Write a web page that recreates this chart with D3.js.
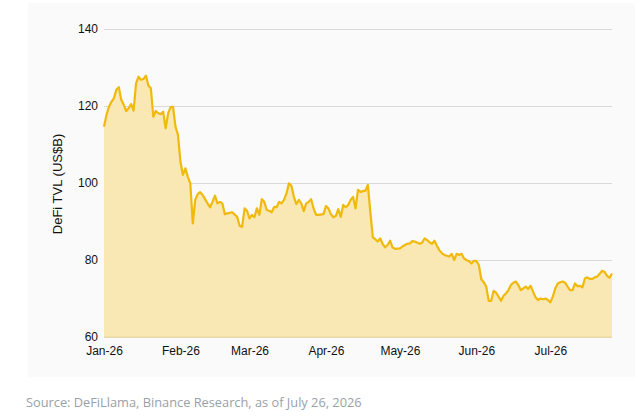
<!DOCTYPE html>
<html>
<head>
<meta charset="utf-8">
<script src="https://cdn.jsdelivr.net/npm/d3@7"></script>
<style>
  body { margin: 0; background: #fff; }
  svg { display: block; }
</style>
</head>
<body>
<div id="chart"></div>
<script>
// DeFi TVL, US$ billions, daily readings taken off the chart (2026)
var dates = [
  '01-01','01-02','01-03','01-04','01-05','01-06','01-07','01-08','01-09','01-10',
  '01-11','01-12','01-13','01-14','01-15','01-16','01-17','01-18','01-19','01-20',
  '01-21','01-22','01-23','01-24','01-25','01-26','01-27','01-28','01-29','01-30','01-31',
  '02-01','02-02','02-03','02-04','02-05','02-06','02-07','02-08','02-09','02-10',
  '02-12','02-13','02-14','02-15','02-16','02-17','02-18','02-19','02-20','02-22',
  '02-24','02-25','02-26','02-27','02-28',
  '03-01','03-02','03-03','03-04','03-05','03-06','03-07','03-08','03-09','03-10',
  '03-11','03-12','03-13','03-14','03-15','03-16','03-17','03-18','03-19','03-20',
  '03-21','03-22','03-23','03-24','03-25','03-26','03-27','03-28','03-29','03-31',
  '04-01','04-02','04-03','04-04','04-05','04-06','04-07','04-08','04-09','04-10',
  '04-11','04-12','04-13','04-14','04-15','04-16','04-17','04-18','04-19','04-20',
  '04-21','04-22','04-23','04-24','04-25','04-26','04-27','04-28','04-29',
  '05-01','05-02','05-03','05-04','05-05','05-06','05-07','05-09','05-10','05-11',
  '05-12','05-13','05-14','05-15','05-16','05-17','05-18','05-19','05-20','05-21',
  '05-22','05-23','05-24','05-25','05-26','05-27','05-28','05-29','05-30','05-31',
  '06-01','06-02','06-03','06-04','06-05','06-06','06-07','06-08','06-09','06-10',
  '06-11','06-12','06-13','06-14','06-15','06-16','06-17','06-18','06-19','06-20',
  '06-21','06-22','06-23','06-24','06-25','06-26','06-27','06-28','06-29','06-30',
  '07-01','07-02','07-03','07-04','07-05','07-06','07-07','07-08','07-09','07-10',
  '07-11','07-12','07-13','07-14','07-15','07-16','07-17','07-18','07-19','07-20',
  '07-21','07-22','07-23','07-24','07-25','07-26'
];
var tvl = [
  114.6,117.7,119.8,121.1,122.0,124.2,124.9,121.6,120.3,118.7,
  119.4,120.5,118.8,125.9,127.6,126.8,127.0,127.9,125.3,124.6,
  117.2,118.7,118.1,117.9,118.5,114.2,118.1,119.7,119.8,114.6,112.5,
  105.5,102.1,103.8,101.6,99.9,89.5,95.6,97.1,97.6,96.9,
  94.7,93.7,95.1,96.7,94.7,95.1,94.7,91.9,92.1,92.4,
  91.2,88.9,88.6,93.4,92.8,
  90.8,91.7,91.1,93.4,91.7,95.8,95.1,93.0,92.8,92.4,
  93.8,93.7,95.1,94.7,95.6,97.3,99.9,99.3,96.4,94.5,
  95.6,94.7,92.7,94.7,95.1,95.8,93.4,91.7,91.7,91.9,
  94.0,93.4,91.9,91.1,91.4,93.2,91.2,94.3,93.7,94.3,
  95.6,96.4,93.4,98.2,97.7,97.9,98.0,99.5,92.5,85.9,
  85.4,84.8,85.6,84.2,83.3,83.9,85.0,83.3,82.9,
  83.0,83.5,83.9,84.2,84.3,84.9,84.8,84.2,84.5,85.6,
  85.2,84.6,84.2,85.0,83.7,82.5,81.8,81.3,81.1,80.9,
  81.6,80.0,81.6,81.3,81.6,80.4,80.0,79.7,79.1,79.8,
  79.7,78.7,75.0,74.2,73.1,69.4,69.4,72.0,71.5,70.5,
  69.4,70.7,71.3,72.2,73.5,74.1,74.4,73.5,72.2,72.6,
  73.1,72.5,73.3,71.8,70.3,69.6,70.0,69.8,70.0,69.6,
  69.0,70.5,72.6,73.9,74.2,74.4,74.1,73.1,72.2,72.2,
  73.9,73.2,73.3,72.9,75.2,75.5,75.1,75.1,75.5,75.7,
  76.4,77.2,76.9,75.9,75.4,76.5
];
var yTicks = [60, 80, 100, 120, 140];
var xTicks = ['2026-01-01','2026-02-01','2026-03-01','2026-04-01','2026-05-01','2026-06-01','2026-07-01'];
var yTitle = 'DeFi TVL (US$B)';
var source = 'Source: DeFiLlama, Binance Research, as of July 26, 2026';

var width = 635, height = 419;
var margin = {top: 29, right: 23, bottom: 82, left: 104};

var parse = d3.timeParse('%Y-%m-%d');
var data = dates.map(function (d, i) {
    return {date: parse('2026-' + d), value: tvl[i]};
});

var svg = d3.select('#chart').append('svg')
    .attr('width', width)
    .attr('height', height);

// faint panel behind the chart
svg.append('rect')
    .attr('x', 28).attr('y', 3)
    .attr('width', width - 28).attr('height', 374)
    .attr('fill', '#fafafa');

var x = d3.scaleTime()
    .domain([parse('2026-01-01'), parse('2026-07-26')])
    .range([margin.left, width - margin.right]);

var y = d3.scaleLinear()
    .domain([60, 140])
    .range([height - margin.bottom, margin.top]);

// gridlines + y labels
var yAxis = svg.append('g')
    .attr('transform', 'translate(' + margin.left + ',0)')
    .call(d3.axisLeft(y).tickValues(yTicks).tickSize(-(width - margin.left - margin.right)).tickPadding(6));
yAxis.select('.domain').remove();
yAxis.selectAll('line').attr('stroke', '#d9d9d9');
yAxis.selectAll('text')
    .attr('font-family', 'Liberation Sans, Arial, sans-serif')
    .attr('font-size', 12)
    .attr('fill', '#111');

var area = d3.area()
    .x(function (d) { return x(d.date); })
    .y0(y(60))
    .y1(function (d) { return y(d.value); });

var line = d3.line()
    .x(function (d) { return x(d.date); })
    .y(function (d) { return y(d.value); });

svg.append('path')
    .datum(data)
    .attr('d', area)
    .attr('fill', '#f9e8b3');

svg.append('line')
    .attr('x1', margin.left).attr('x2', width - margin.right)
    .attr('y1', y(60)).attr('y2', y(60))
    .attr('stroke', '#efd993').attr('stroke-width', 1);

svg.append('path')
    .datum(data)
    .attr('d', line)
    .attr('fill', 'none')
    .attr('stroke', '#f0b90b')
    .attr('stroke-width', 2.2)
    .attr('stroke-linejoin', 'round');

// x labels
var xAxis = svg.append('g')
    .attr('transform', 'translate(0,' + y(60) + ')')
    .call(d3.axisBottom(x).tickValues(xTicks.map(parse)).tickFormat(d3.timeFormat('%b-%y')).tickSize(0).tickPadding(9));
xAxis.select('.domain').remove();
xAxis.selectAll('text')
    .attr('font-family', 'Liberation Sans, Arial, sans-serif')
    .attr('font-size', 12)
    .attr('fill', '#111');

svg.append('text')
    .attr('transform', 'translate(62,' + 184 + ') rotate(-90)')
    .attr('text-anchor', 'middle')
    .attr('font-family', 'Liberation Sans, Arial, sans-serif')
    .attr('font-size', 13)
    .attr('fill', '#111')
    .text(yTitle);

svg.append('text')
    .attr('x', 26).attr('y', 407)
    .attr('font-family', 'Open Sans, sans-serif')
    .attr('font-size', 12.8)
    .attr('fill', '#9aa0a8')
    .text(source);
</script>
</body>
</html>
